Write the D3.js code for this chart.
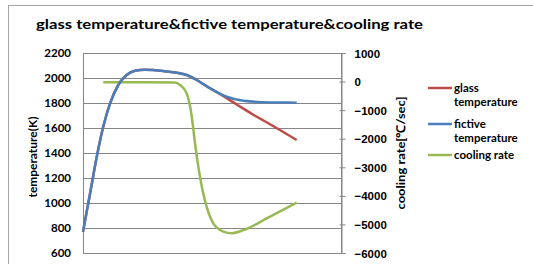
<!DOCTYPE html>
<html>
<head>
<meta charset="utf-8">
<script src="https://cdn.jsdelivr.net/npm/d3@7"></script>
<style>
  body { margin: 0; background: #fff; }
  svg { display: block; font-family: Lato, 'Liberation Sans', sans-serif; font-weight: bold; }
</style>
</head>
<body>
<svg id="chart" width="533" height="264"></svg>
<script>
// time axis (arbitrary units)
const glassX = [0, 0.33, 0.64, 0.94, 1.26, 1.64, 2.03, 2.42, 2.88, 3.72, 4.82, 5.29, 5.6, 6.37, 7.15, 7.92, 8.7, 9.94]
const glassY = [770, 1078, 1370, 1610, 1797, 1944, 2024, 2058, 2066, 2056, 2024, 1984, 1950, 1872, 1788, 1706, 1630, 1504]

const fictiveX = [0, 0.33, 0.64, 0.94, 1.26, 1.64, 2.03, 2.42, 2.88, 3.72, 4.82, 5.29, 5.91, 6.68, 7.46, 8.7, 9.94]
const fictiveY = [770, 1078, 1370, 1610, 1797, 1944, 2024, 2058, 2066, 2056, 2024, 1984, 1917, 1850, 1818, 1805, 1803]

const coolX = [0.94, 2.5, 4.28, 4.51, 4.82, 5.06, 5.21, 5.44, 5.75, 6.06, 6.53, 6.92, 7.46, 8.7, 9.94]
const coolY = [-20, -20, -30, -120, -410, -1230, -2160, -3330, -4380, -4960, -5250, -5310, -5200, -4730, -4240]

const leftTicks = [600, 800, 1000, 1200, 1400, 1600, 1800, 2000, 2200]
const rightTicks = [-6000, -5000, -4000, -3000, -2000, -1000, 0, 1000]

const colors = ['#BE4B48', '#4A7EBB', '#98B954']

const plot = { left: 83, right: 341, top: 53, bottom: 253 }

const svg = d3.select('#chart')

// outer chart frame (runs off the picture on the right and bottom)
svg.append('rect')
  .attr('x', 8.5).attr('y', 5.5)
  .attr('width', 600).attr('height', 300)
  .attr('fill', 'none').attr('stroke', '#a6a6a6')

const x = d3.scaleLinear().domain([0, 12]).range([plot.left, plot.right])
const yL = d3.scaleLinear().domain([600, 2200]).range([plot.bottom, plot.top])
const yR = d3.scaleLinear().domain([-6000, 1000]).range([plot.bottom, plot.top])

// gridlines
svg.append('g')
  .selectAll('line')
  .data(leftTicks)
  .enter()
  .append('line')
  .attr('x1', plot.left).attr('x2', plot.right)
  .attr('y1', d => Math.round(yL(d)) + 0.5)
  .attr('y2', d => Math.round(yL(d)) + 0.5)
  .attr('stroke', '#868686')

// plot frame
svg.append('rect')
  .attr('x', plot.left + 0.5).attr('y', plot.top + 0.5)
  .attr('width', plot.right - plot.left).attr('height', plot.bottom - plot.top)
  .attr('fill', 'none').attr('stroke', '#868686')

// left axis labels
svg.append('g')
  .selectAll('text')
  .data(leftTicks)
  .enter()
  .append('text')
  .attr('x', 71)
  .attr('y', d => yL(d) + 4)
  .attr('text-anchor', 'end')
  .attr('font-size', 11.5)
  .text(d => d)

// right axis with outside ticks
const rightAxis = svg.append('g')
  .attr('transform', `translate(${plot.right + 0.5},0)`)
  .call(d3.axisRight(yR).tickValues(rightTicks).tickSize(4).tickPadding(9).tickFormat(d3.format('d')))
rightAxis.select('.domain').attr('stroke', '#868686')
rightAxis.selectAll('.tick line').attr('stroke', '#868686').attr('x1', -2)
rightAxis.selectAll('.tick text')
  .attr('font-size', 11.5).attr('font-family', null).attr('fill', '#000')
  .attr('dy', '0.35em')

// axis titles
svg.append('text')
  .attr('transform', 'translate(37,157) rotate(-90)')
  .attr('text-anchor', 'middle')
  .attr('font-size', 12)
  .attr('textLength', 81)
  .attr('lengthAdjust', 'spacingAndGlyphs')
  .text('temperature(K)')

svg.append('text')
  .attr('transform', 'translate(405,153) rotate(-90)')
  .attr('text-anchor', 'middle')
  .attr('font-size', 12)
  .attr('textLength', 113)
  .attr('lengthAdjust', 'spacingAndGlyphs')
  .text('cooling rate[℃/sec]')

// title
svg.append('text')
  .attr('x', 36).attr('y', 29)
  .attr('font-size', 14)
  .attr('textLength', 387)
  .attr('lengthAdjust', 'spacingAndGlyphs')
  .text('glass temperature&fictive temperature&cooling rate')

// lines
const lineL = d3.line().x(d => x(d[0])).y(d => yL(d[1])).curve(d3.curveMonotoneX)
const lineR = d3.line().x(d => x(d[0])).y(d => yR(d[1])).curve(d3.curveMonotoneX)

svg.append('path')
  .datum(d3.zip(coolX, coolY))
  .attr('d', lineR)
  .attr('fill', 'none').attr('stroke', colors[2]).attr('stroke-width', 2.5)

svg.append('path')
  .datum(d3.zip(glassX, glassY))
  .attr('d', lineL)
  .attr('fill', 'none').attr('stroke', colors[0]).attr('stroke-width', 2.5)

svg.append('path')
  .datum(d3.zip(fictiveX, fictiveY))
  .attr('d', lineL)
  .attr('fill', 'none').attr('stroke', colors[1]).attr('stroke-width', 2.5)

// legend
const legendRows = [
  { lines: ['glass', 'temperature'], y: 88 },
  { lines: ['fictive', 'temperature'], y: 124 },
  { lines: ['cooling rate'], y: 155 }
]
const legend = svg.append('g')
legendRows.forEach((r, i) => {
  legend.append('line')
    .attr('x1', 428).attr('x2', 452)
    .attr('y1', r.y).attr('y2', r.y)
    .attr('stroke', colors[i]).attr('stroke-width', 2.5)
  const t = legend.append('text')
    .attr('x', 454).attr('y', r.y + 4)
    .attr('font-size', 11.5)
  r.lines.forEach((s, j) => {
    t.append('tspan').attr('x', 454).attr('dy', j === 0 ? 0 : 14).text(s)
  })
})
</script>
</body>
</html>
